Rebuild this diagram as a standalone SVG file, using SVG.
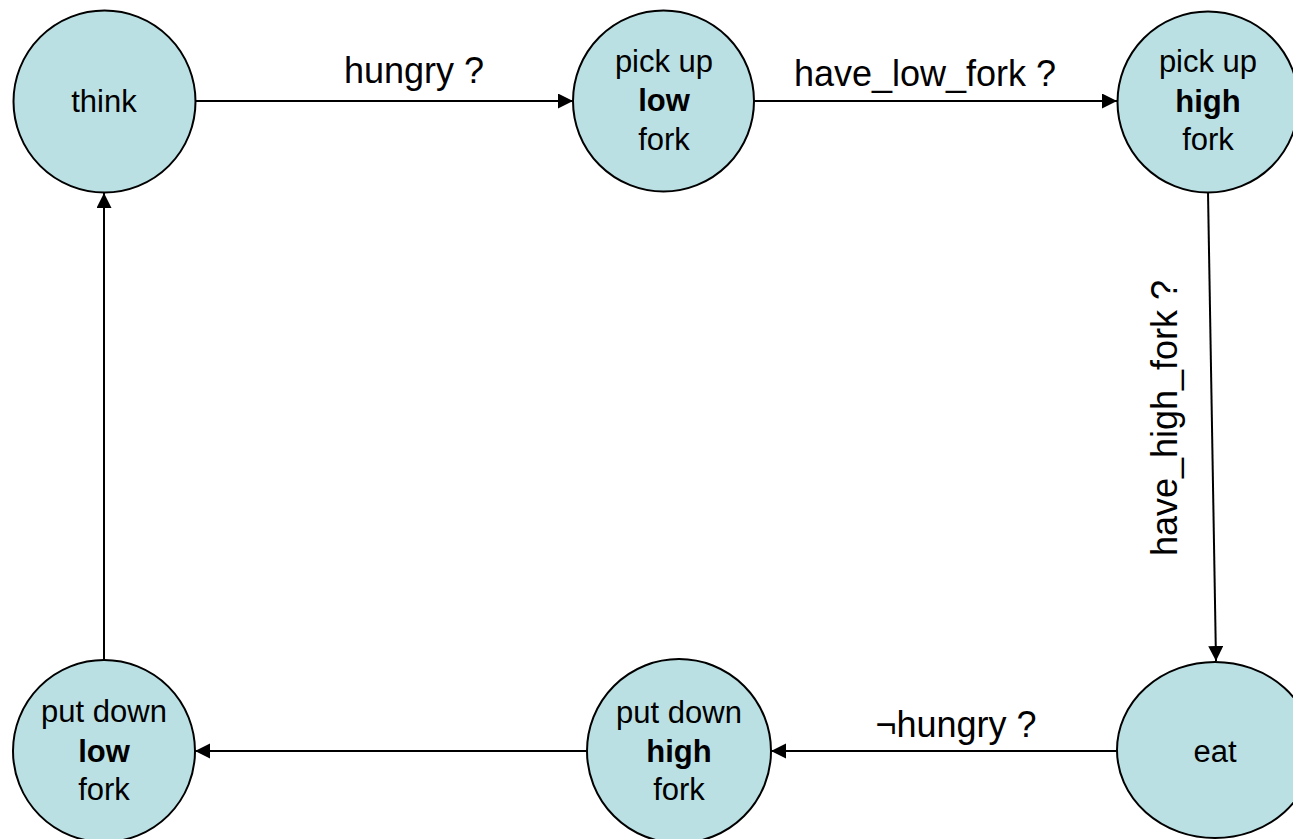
<svg xmlns="http://www.w3.org/2000/svg" width="1293" height="839" viewBox="0 0 1293 839">
<style>
.node{fill:#BAE0E4;stroke:#000;stroke-width:2}
.nt{font-family:"Liberation Sans",Arial,sans-serif;font-size:31px;fill:#000;text-anchor:middle}
.b{font-weight:bold}
.lbl{font-family:"Liberation Sans",Arial,sans-serif;font-size:36px;fill:#000;text-anchor:middle}
.edge{stroke:#000;stroke-width:2;fill:none;marker-end:url(#arr)}
</style>
<defs>
<marker id="arr" markerUnits="userSpaceOnUse" markerWidth="16" markerHeight="16" refX="15" refY="7.5" orient="auto">
<path d="M0,0 L15,7.5 L0,15 z" fill="#000"/>
</marker>
</defs>
<rect width="1293" height="839" fill="#fff"/>
<g id="connectors">
<line class="edge" x1="195" y1="101" x2="573" y2="101"/>
<line class="edge" x1="754" y1="101" x2="1117" y2="101"/>
<line class="edge" x1="1208" y1="192" x2="1216" y2="661"/>
<line class="edge" x1="1117" y1="751" x2="771" y2="751"/>
<line class="edge" x1="587" y1="751" x2="195" y2="751"/>
<line class="edge" x1="104" y1="660" x2="104" y2="193"/>
<text class="lbl" x="414" y="83">hungry ?</text>
<text class="lbl" x="925" y="86">have_low_fork ?</text>
<text class="lbl" transform="translate(1177,418) rotate(-90)">have_high_fork ?</text>
<text class="lbl" x="956" y="737">¬hungry ?</text>
</g>
<g id="think">
<circle class="node" cx="104.5" cy="101.5" r="91"/>
<text class="nt" x="104" y="112">think</text>
</g>
<g id="pickup-low">
<circle class="node" cx="663.5" cy="101" r="90.5"/>
<text class="nt" x="664" y="72">pick up</text>
<text class="nt b" x="664" y="111">low</text>
<text class="nt" x="664" y="150">fork</text>
</g>
<g id="pickup-high">
<circle class="node" cx="1208" cy="102" r="90.5"/>
<text class="nt" x="1208" y="72">pick up</text>
<text class="nt b" x="1208" y="112">high</text>
<text class="nt" x="1208" y="150">fork</text>
</g>
<g id="eat">
<ellipse class="node" cx="1215" cy="750" rx="98" ry="88"/>
<text class="nt" x="1215" y="762">eat</text>
</g>
<g id="putdown-high">
<circle class="node" cx="679" cy="751" r="92"/>
<text class="nt" x="679" y="723">put down</text>
<text class="nt b" x="679" y="762">high</text>
<text class="nt" x="679" y="800">fork</text>
</g>
<g id="putdown-low">
<circle class="node" cx="104" cy="751" r="91"/>
<text class="nt" x="104" y="722">put down</text>
<text class="nt b" x="104" y="762">low</text>
<text class="nt" x="104" y="800">fork</text>
</g>
</svg>
